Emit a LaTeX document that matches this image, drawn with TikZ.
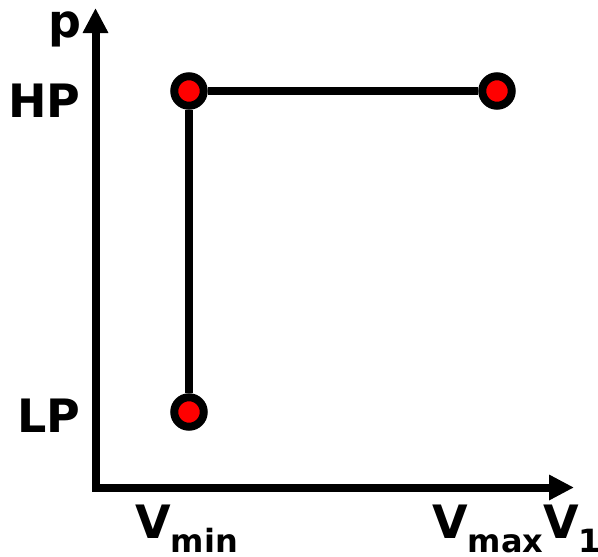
\documentclass[tikz,border=0pt]{standalone}
\usepackage{fontspec}
\setmainfont{DejaVu Sans}[BoldFont={DejaVu Sans Bold}]
\usetikzlibrary{arrows.meta}
\newcommand{\subtxt}[1]{\raisebox{-14pt}{\fontsize{32}{32}\selectfont\bfseries #1}}
\begin{document}
\begin{tikzpicture}[x=1pt,y=-1pt,
  axis/.style={line width=8pt,line join=miter,{Triangle[width=24pt,length=25pt]}-{Triangle[width=24pt,length=25pt]}},
  seg/.style={line width=8pt},
  dot/.style={circle,draw=black,fill=red,line width=8pt,minimum size=29.5pt,inner sep=0pt},
  lbl/.style={anchor=base west,inner sep=0pt,font=\fontsize{46}{46}\selectfont\bfseries}]
\useasboundingbox (0,0) rectangle (598,557);
\coordinate (ytip) at (95.5,8);
\coordinate (o) at (95.5,487.5);
\coordinate (xtip) at (574,487.5);
\draw[axis] (ytip) -- (o) -- (xtip);
\node[dot] (lp) at (189,412) {};
\node[dot] (hp) at (189,91) {};
\node[dot] (hr) at (497,91) {};
\draw[seg] (lp) -- (hp);
\draw[seg] (hp) -- (hr);
\node[lbl] (p) at (48,37) {p};
\node[lbl] (HP) at (8,117) {HP};
\node[lbl] (LP) at (17,432) {LP};
\node[lbl] (vmin) at (135,538) {V\subtxt{min}};
\node[lbl] (vmax) at (432,538) {V\subtxt{max}V\subtxt{1}};
\end{tikzpicture}
\end{document}
